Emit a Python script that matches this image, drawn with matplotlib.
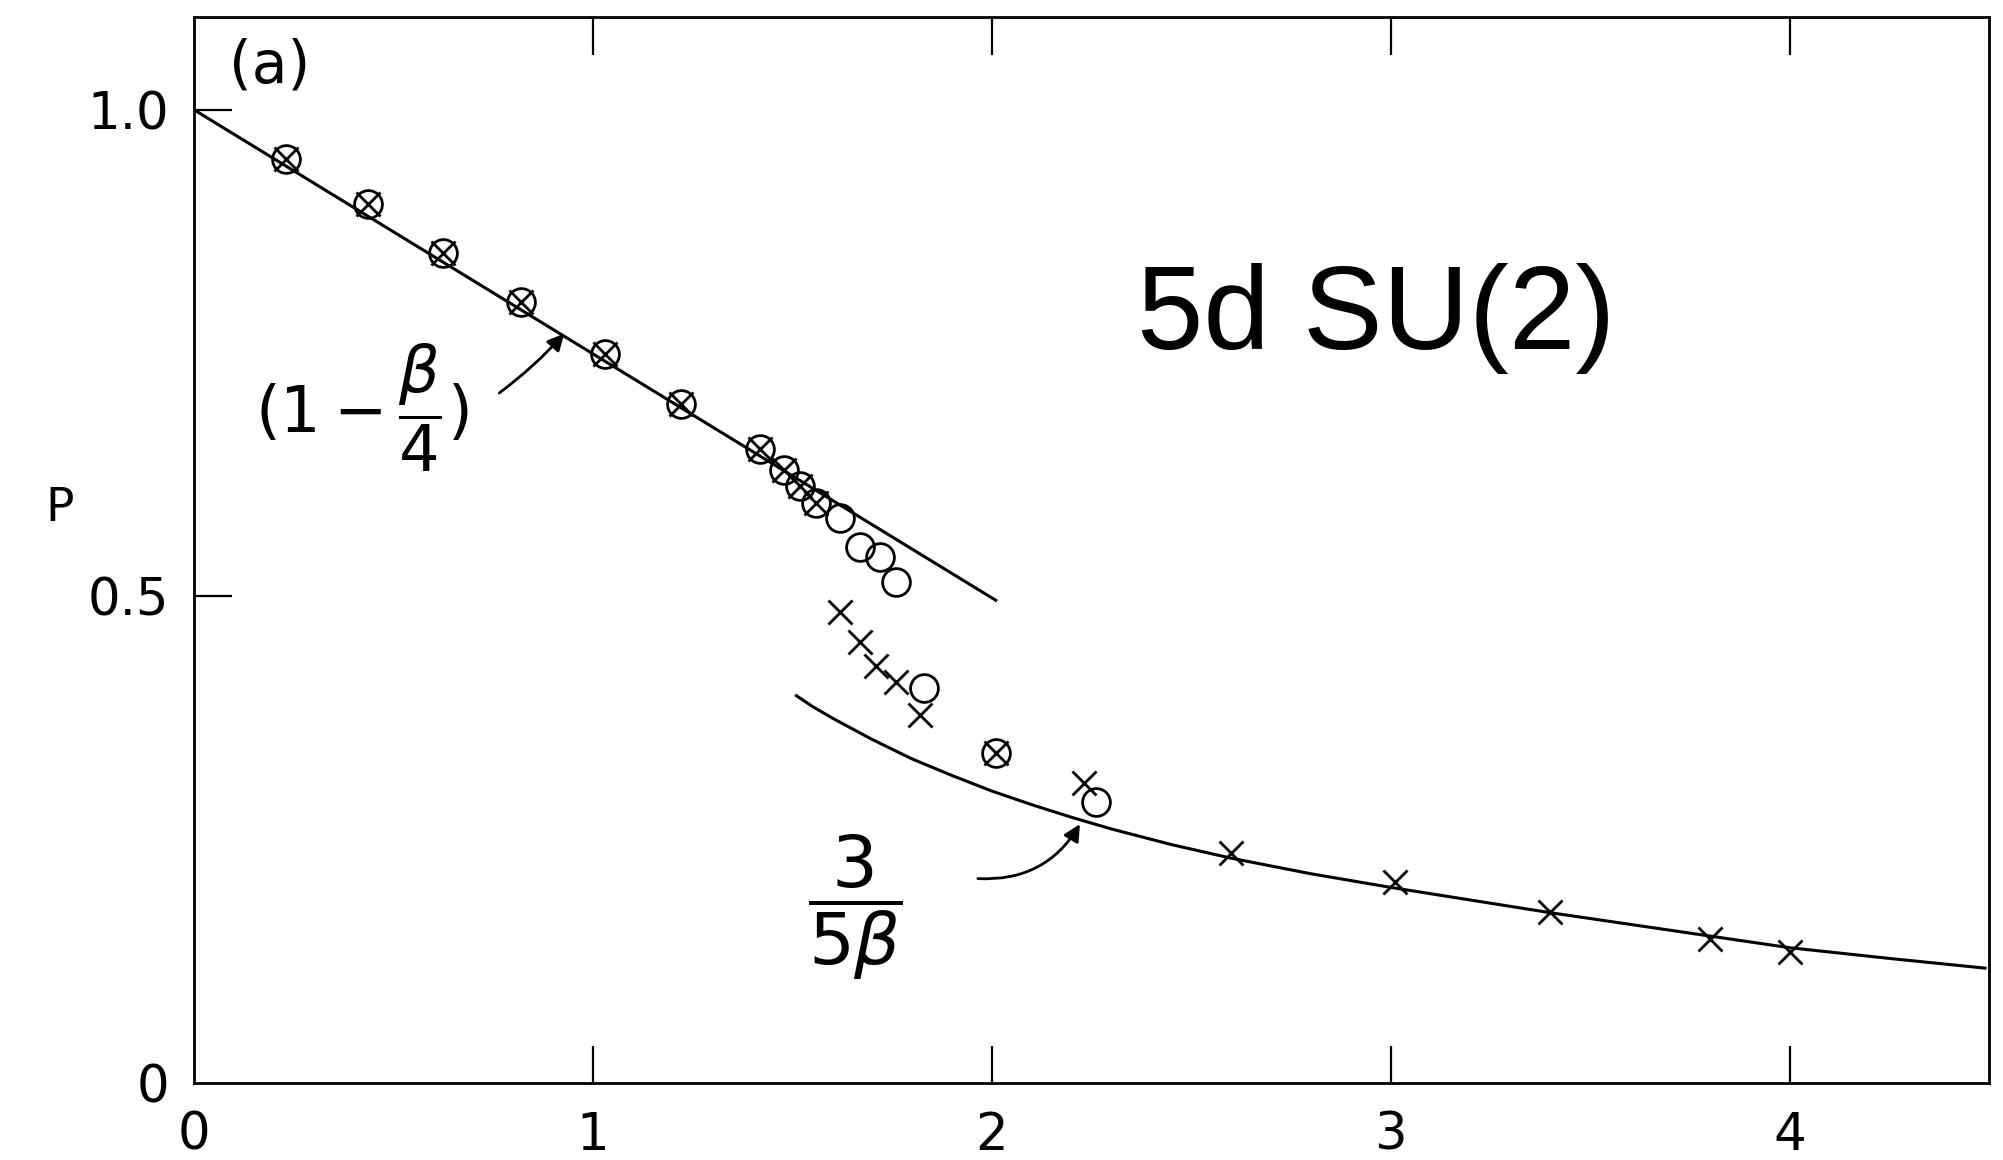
import matplotlib
matplotlib.use("Agg")
import matplotlib.pyplot as plt

# open circles (plaquette, one lattice size)
circ_beta = [0.23, 0.435, 0.625, 0.82, 1.03, 1.22, 1.42, 1.48, 1.52, 1.56,
             1.62, 1.67, 1.72, 1.76, 1.83, 2.01, 2.26]
circ_P = [0.949, 0.903, 0.853, 0.803, 0.749, 0.698, 0.651, 0.630, 0.613, 0.596,
          0.581, 0.551, 0.541, 0.515, 0.406, 0.339, 0.289]

# crosses (other run)
cross_beta = [0.23, 0.435, 0.625, 0.82, 1.03, 1.22, 1.42, 1.48, 1.52, 1.56,
              1.62, 1.67, 1.71, 1.76, 1.82, 2.01, 2.23, 2.6, 3.01, 3.4, 3.8, 4.0]
cross_P = [0.949, 0.903, 0.853, 0.803, 0.749, 0.698, 0.651, 0.630, 0.613, 0.596,
           0.484, 0.453, 0.429, 0.412, 0.378, 0.339, 0.308, 0.236, 0.207, 0.176,
           0.148, 0.135]

# strong coupling line (1 - beta/4)
strong_beta = [0.0, 2.01]
strong_P = [1.0, 0.496]

# weak coupling curve 3/(5 beta)
weak_beta = [1.51, 1.55, 1.6, 1.65, 1.7, 1.75, 1.8, 1.9, 2.0, 2.1, 2.2, 2.3,
             2.45, 2.6, 2.8, 3.0, 3.2, 3.4, 3.6, 3.8, 4.0, 4.25, 4.49]
weak_P = [0.398, 0.387, 0.375, 0.364, 0.353, 0.343, 0.333, 0.316, 0.300, 0.286,
          0.273, 0.261, 0.245, 0.231, 0.215, 0.201, 0.188, 0.175, 0.163, 0.151,
          0.139, 0.128, 0.118]

xticks = [0, 1, 2, 3, 4]
xtick_labels = ["0", "1", "2", "3", "4"]
yticks = [0, 0.5, 1.0]
ytick_labels = ["0", "0.5", "1.0"]

fig = plt.figure(figsize=(20.03, 11.6), dpi=100)
ax = fig.add_axes([0.0969, 0.0664, 0.8961, 0.9186])

ax.plot(strong_beta, strong_P, color="black", lw=2.2)
ax.plot(weak_beta, weak_P, color="black", lw=2.2)

ax.plot(circ_beta, circ_P, linestyle="none", marker="o", markersize=20,
        markerfacecolor="none", markeredgecolor="black", markeredgewidth=2.0)
ax.plot(cross_beta, cross_P, linestyle="none", marker="x", markersize=17,
        markeredgecolor="black", markeredgewidth=2.0)

ax.set_xlim(0, 4.5)
ax.set_ylim(0, 1.095)

ax.set_xticks(xticks)
ax.set_xticklabels(xtick_labels)
ax.set_yticks(yticks)
ax.set_yticklabels(ytick_labels)
ax.tick_params(axis="both", direction="in", length=27, width=1.6,
               top=True, right=False)
ax.tick_params(axis="x", pad=20, labelsize=37)
ax.tick_params(axis="y", pad=18, labelsize=37)
for t in ax.xaxis.get_major_ticks()[:1] + ax.yaxis.get_major_ticks()[:1]:
    t.tick1line.set_visible(False)
    t.tick2line.set_visible(False)

for sp in ax.spines.values():
    sp.set_linewidth(2.0)

fig.text(0.030, 0.562, "P", fontsize=34, ha="center", va="center")
ax.text(0.19, 1.045, "(a)", fontsize=42, ha="center", va="center")

# formula labels with their arrows
ax.text(0.42, 0.694, r"$(1-\dfrac{\beta}{4})$", fontsize=46,
        ha="center", va="center")
ax.annotate("", xy=(0.928, 0.770), xytext=(0.765, 0.709),
            arrowprops=dict(arrowstyle="-|>", color="black", lw=2.0,
                            mutation_scale=25, shrinkA=0, shrinkB=0,
                            connectionstyle="arc3,rad=0.05"))
ax.text(1.658, 0.181, r"$\dfrac{3}{5\beta}$", fontsize=52,
        ha="center", va="center")
ax.annotate("", xy=(2.221, 0.266), xytext=(1.965, 0.21),
            arrowprops=dict(arrowstyle="-|>", color="black", lw=2.0,
                            mutation_scale=25, shrinkA=0, shrinkB=0,
                            connectionstyle="arc3,rad=0.3"))

fig.text(0.687, 0.725, "5d SU(2)", fontsize=86, ha="center", va="center",
         family=["Liberation Sans", "DejaVu Sans"])

fig.savefig("out.png", dpi=100)
